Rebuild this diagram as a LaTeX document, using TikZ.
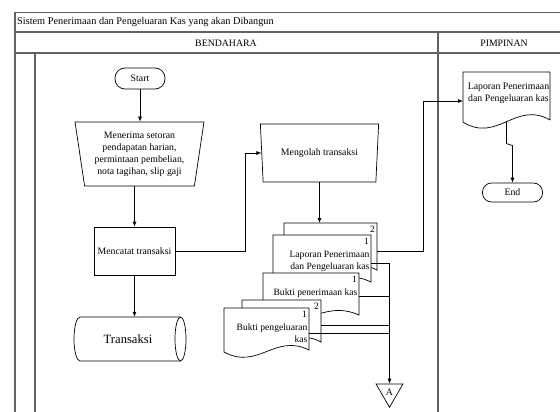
\documentclass[tikz,border=0pt]{standalone}
\usepackage{fontspec}
\setmainfont{Liberation Serif}
\usetikzlibrary{shapes.geometric,arrows.meta,calc}
\newcommand\docshp[5]{% name, x, y, w, h
  \path[draw=black, line width=0.7pt, fill=white] (#2,#3) -- ({#2+#4},#3) -- ({#2+#4},{#3+0.84*#5})
    .. controls ({#2+0.6*#4},{#3+0.5*#5}) and ({#2+0.4*#4},{#3+1.25*#5}) .. (#2,{#3+0.88*#5}) -- cycle;
  \node[inner sep=0pt, outer sep=0pt, minimum width=#4pt, minimum height=0.87*#5pt, anchor=north west] (#1) at (#2,#3) {};
}
\begin{document}
\begin{tikzpicture}[x=1pt,y=-1pt,
  shp/.style={draw=black, line width=0.7pt},
  txt/.style={font=\fontsize{9.8}{12}\selectfont, align=center},
  arr/.style={line width=0.7pt, -{Latex[length=5pt,width=4pt]}},
  ln/.style={line width=0.7pt},
  frame/.style={draw=black!62, line width=1.1pt},
  term/.style={shp, rounded corners=10pt, minimum width=50pt, minimum height=21pt, inner sep=0pt, txt},
  manop/.style={shp, trapezium, shape border rotate=180, trapezium stretches=true, inner sep=0pt, txt},
  doctxt/.style={inner sep=0pt, font=\fontsize{9.6}{12}\selectfont, align=right},
  numtxt/.style={inner sep=0pt, font=\fontsize{9.6}{11}\selectfont},
]
\useasboundingbox (0,0) rectangle (560,412);
\fill[white] (0,0) rectangle (560,412);
% frame
\draw[frame] (15,412) -- (15,12.5) -- (560,12.5);
\draw[frame] (15,32) -- (560,32);
\draw[frame, line width=1.4pt] (15,53) -- (560,53);
\draw[frame] (438,32) -- (438,412);
\draw[frame] (35,53) -- (35,412);
\node[anchor=west, inner sep=0pt, font=\fontsize{10.3}{12}\selectfont] (title) at (17,22.5) {Sistem Penerimaan dan Pengeluaran Kas yang akan Dibangun};
\node[txt] (hb) at (226,43) {BENDAHARA};
\node[txt] (hp) at (504,43) {PIMPINAN};
% left flow
\node[term] (start) at (140,78.5) {Start};
\node[manop, trapezium left angle=80, trapezium right angle=80, minimum width=129pt, minimum height=64pt] (menerima) at (139.5,154) {Menerima setoran\\pendapatan harian,\\permintaan pembelian,\\nota tagihan, slip gaji};
\node[shp, txt, minimum width=81pt, minimum height=48pt, inner sep=0pt] (mencatat) at (134.5,251) {Mencatat transaksi};
\draw[shp] (180.5,317) -- (80,317) arc[start angle=90, end angle=270, x radius=6pt, y radius=22pt] -- (180.5,361);
\draw[shp] (180.5,339) ellipse[x radius=5.5pt, y radius=22pt];
\node[inner sep=0pt, minimum width=100pt, minimum height=44pt, font=\fontsize{12.6}{14}\selectfont] (transaksi) at (128,339) {Transaksi};
\node[manop, trapezium left angle=78, trapezium right angle=78, minimum width=119pt, minimum height=58pt] (mengolah) at (319.5,153) {Mengolah transaksi};
% documents
\docshp{lap2}{284}{223}{93}{56}
\node[numtxt, anchor=north east] (lap2n) at ([xshift=-2pt,yshift=-3pt]lap2.north east) {2};
\docshp{lap1}{273}{235}{98}{56}
\node[numtxt, anchor=north east] (lap1n) at ([xshift=-2pt,yshift=-3pt]lap1.north east) {1};
\node[doctxt, anchor=north east] (lap1t) at ([xshift=-1.5pt,yshift=-16pt]lap1.north east) {Laporan Penerimaan\\dan Pengeluaran kas};
\docshp{bp}{263}{273}{96}{50}
\node[numtxt, anchor=north east] (bpn) at ([xshift=-2pt,yshift=-3pt]bp.north east) {1};
\node[doctxt, anchor=north east] (bpt) at ([xshift=-1.5pt,yshift=-16pt]bp.north east) {Bukti penerimaan kas};
\docshp{pg2}{242}{300}{79}{50}
\node[numtxt, anchor=north east] (pg2n) at ([xshift=-2pt,yshift=-3pt]pg2.north east) {2};
\docshp{pg1}{224}{308}{85}{50}
\node[numtxt, anchor=north east] (pg1n) at ([xshift=-2pt,yshift=-3pt]pg1.north east) {1};
\node[doctxt, anchor=north east] (pg1t) at ([xshift=-1.5pt,yshift=-16pt]pg1.north east) {Bukti pengeluaran\\kas};
\node[shp, regular polygon, regular polygon sides=3, shape border rotate=180, minimum size=31pt, inner sep=0pt, txt] (offA) at (389.5,391.8) {A};
% pimpinan
\docshp{lapP}{463}{72}{87}{57}
\node[txt, anchor=north, inner sep=0pt] (lapPt) at ([xshift=2pt,yshift=-11pt]lapP.north) {Laporan Penerimaan\\dan Pengeluaran kas};
\node[term, minimum width=60pt, minimum height=19pt, rounded corners=9pt] (end) at (512.5,192.5) {End};
% connectors
\draw[arr] (start.south) -- (start.south |- menerima.north);
\draw[arr] (mencatat.north |- menerima.south) -- (mencatat.north);
\draw[arr] (mencatat.south) -- (mencatat.south |- transaksi.north);
\coordinate (turn) at (245,0);
\draw[arr] (mencatat.east) -- (mencatat.east -| turn) |- (mengolah.west);
\draw[arr] (mengolah.south) -- (mengolah.south |- lap2.north);
\coordinate (o1) at ([yshift=-28pt]lap2.north east);
\coordinate (o2) at ([yshift=-28pt]lap1.north east);
\coordinate (o3) at ([yshift=-23pt]bp.north east);
\coordinate (o4) at ([yshift=-25pt]pg2.north east);
\coordinate (o5) at ([yshift=-25pt]pg1.north east);
\coordinate (vx) at (423,0);
\coordinate (lpin) at ([yshift=-29pt]lapP.north west);
\draw[arr] (o1) -- (o1 -| vx) |- (lpin);
\draw[arr] (o2) -| (offA.north);
\draw[ln] (o3) -- (o3 -| offA.north);
\draw[ln] (o4) -- (o4 -| offA.north);
\draw[ln] (o5) -- (o5 -| offA.north);
\draw[arr] (lapP.south) -- ++(0,22) -- ++(6,2) -- (end.north);
\end{tikzpicture}
\end{document}
